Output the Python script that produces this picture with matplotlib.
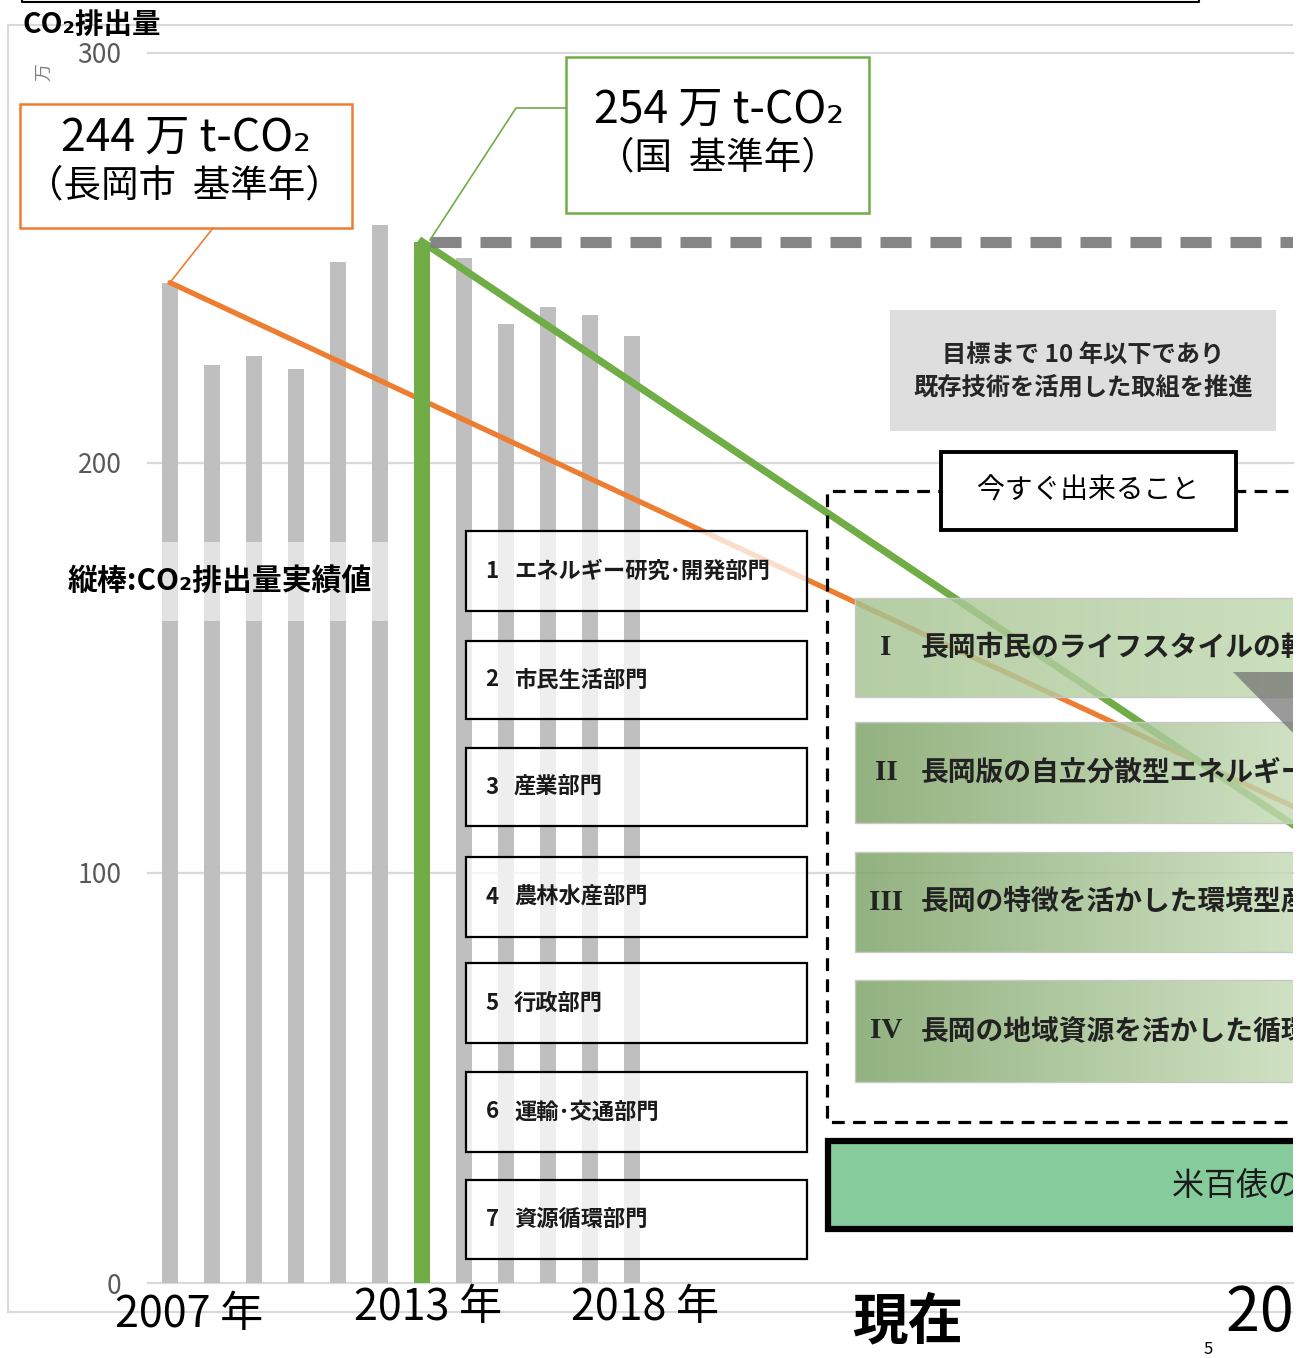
import numpy as np
import matplotlib
matplotlib.use("Agg")
import matplotlib.pyplot as plt
import matplotlib.colors as mcolors
from matplotlib.patches import Rectangle, Polygon

plt.rcParams["font.family"] = ["Noto Sans CJK JP", "DejaVu Sans"]

# --- data (万 t-CO2) ---
years = [2007, 2008, 2009, 2010, 2011, 2012, 2013, 2014, 2015, 2016, 2017, 2018]
emissions = [244, 224, 226, 223, 249, 258, 254, 250, 234, 238, 236, 231]

city_line_x = [2007, 2034]
city_line_y = [244, 115]
nation_line_x = [2013, 2034]
nation_line_y = [254, 110]
nation_base = 254

y_ticks = [0, 100, 200, 300]
x_labels = ["2007 年", "2013 年", "2018 年"]
sector_nums = ["1", "2", "3", "4", "5", "6", "7"]
sector_labels = ["エネルギー研究･開発部門", "市民生活部門", "産業部門",
                 "農林水産部門", "行政部門", "運輸･交通部門", "資源循環部門"]
pillar_nums = ["I", "II", "III", "IV"]
pillar_labels = ["長岡市民のライフスタイルの転換",
                 "長岡版の自立分散型エネルギー社会の構築",
                 "長岡の特徴を活かした環境型産業の振興",
                 "長岡の地域資源を活かした循環型社会の構築"]

W, H = 1308, 1358
fig = plt.figure(figsize=(W / 100, H / 100), dpi=100)

# main chart axes, placed in pixel terms
x_left, x_right, y_top, y_bot = 148, 1293, 53, 1283
ax = fig.add_axes([x_left / W, 1 - y_bot / H, (x_right - x_left) / W, (y_bot - y_top) / H])
px_per_year = 42
ax.set_xlim(2007 - (170 - x_left) / px_per_year, 2007 + (x_right - 170) / px_per_year)
ax.set_ylim(0, 300)
for s in ax.spines.values():
    s.set_visible(False)
ax.set_xticks([])
ax.set_yticks(y_ticks)
ax.set_yticklabels([str(v) for v in y_ticks])
ax.tick_params(axis="y", length=0, pad=19, labelsize=19, labelcolor="#595959")
for v in y_ticks:
    ax.axhline(v, color="#d9d9d9", lw=1.6, zorder=0, clip_on=False)

ax.bar(years, emissions, width=0.38, color="#bfbfbf", zorder=1)

ax.plot(city_line_x, city_line_y, color="#ed7d31", lw=3.8, zorder=3, solid_capstyle="round")
ax.plot(nation_line_x, nation_line_y, color="#70ad47", lw=5.2, zorder=4)
ax.plot([nation_line_x[0], nation_line_x[0]], [0, nation_base], color="#70ad47", lw=11.5,
        zorder=4, solid_capstyle="butt")
ax.plot([nation_line_x[0] + 0.2, nation_line_x[1]], [nation_base, nation_base], color="#7f7f7f",
        lw=8, dashes=(2.8, 1.7), dash_capstyle="butt", zorder=5, alpha=0.95)

# overlay axes in pixel coordinates for the boxes and texts
ov = fig.add_axes([0, 0, 1293 / W, 1])
ov.axis("off")


def rect(x0, y0, x1, y1, **kw):
    r = Rectangle((x0, y0), x1 - x0, y1 - y0, **kw)
    ov.add_patch(r)
    return r


def txt(x, y, s, **kw):
    kw.setdefault("clip_on", True)
    return ov.text(x, y, s, **kw)


def gradient(x0, y0, x1, y1, c_left, c_right, alpha, z):
    t = np.linspace(0, 1, 256)[:, None]
    cl = np.array(mcolors.to_rgb(c_left))
    cr = np.array(mcolors.to_rgb(c_right))
    img = np.ones((1, 256, 4))
    img[0, :, :3] = cl * (1 - t) + cr * t
    img[0, :, 3] = alpha
    ov.imshow(img, extent=(x0, x1, y1, y0), aspect="auto", interpolation="bilinear", zorder=z)
    rect(x0, y0, x1, y1, fill=False, ec="#c8c8c8", lw=1, zorder=z + 0.1)


# outer frame
ov.plot([8, 1293], [25, 25], color="#d9d9d9", lw=1.5)
ov.plot([8, 8], [25, 1312], color="#d9d9d9", lw=1.5)
ov.plot([8, 1293], [1312, 1312], color="#d9d9d9", lw=1.5)
ov.plot([22, 22, 1199, 1199], [-2, 1.5, 1.5, -2], color="black", lw=1.5)

# axis title / unit
txt(22, 25, "CO₂排出量", fontsize=20.5, fontweight="bold", va="center", ha="left")
txt(44, 72, "万", fontsize=13, color="#7f7f7f", rotation=90, va="center", ha="center")

# label band over the bars
rect(60, 542, 392, 621, fc="white", alpha=0.55, lw=0, zorder=2)
txt(68, 581, "縦棒:CO₂排出量実績値", fontsize=21.5, fontweight="bold", va="center", ha="left",
    zorder=3)

# callouts
rect(20, 104, 352, 228, fc="white", ec="#ed7d31", lw=1.8, zorder=4)
txt(186, 138, "244 万 t-CO₂", fontsize=32, ha="center", va="center", zorder=5)
txt(184, 186, "（長岡市  基準年）", fontsize=27, ha="center", va="center", zorder=5)
ov.plot([213, 172], [228, 280], color="#ed7d31", lw=1.2, zorder=4)

rect(566, 57, 869, 213, fc="white", ec="#70ad47", lw=1.8, zorder=4)
txt(719, 110, "254 万 t-CO₂", fontsize=32, ha="center", va="center", zorder=5)
txt(718, 158, "（国  基準年）", fontsize=27, ha="center", va="center", zorder=5)
ov.plot([566, 516, 430], [108, 108, 240], color="#70ad47", lw=1.2, zorder=4)

# sector boxes
sector_y = [(531, 611), (641, 719), (748, 826), (857, 937), (963, 1043), (1072, 1152), (1180, 1259)]
for (y0, y1), num, lab in zip(sector_y, sector_nums, sector_labels):
    rect(466, y0, 807, y1, fc="white", alpha=0.75, lw=0, zorder=3)
    rect(466, y0, 807, y1, fill=False, ec="black", lw=1.6, zorder=3.1)
    txt(492, (y0 + y1) / 2, num, fontsize=16, fontweight="bold", va="center", ha="center",
        color="#1a1a1a", zorder=3.2)
    txt(514, (y0 + y1) / 2, lab, fontsize=16, fontweight="bold", va="center", ha="left",
        color="#1a1a1a", zorder=3.2)

# grey note box
rect(890, 310, 1276, 431, fc="#dedede", lw=0, zorder=3)
txt(1083, 356, "目標まで 10 年以下であり", fontsize=17.5, fontweight="bold", ha="center",
    va="center", color="#262626", zorder=3.2)
txt(1083, 388, "既存技術を活用した取組を推進", fontsize=17.5, fontweight="bold", ha="center",
    va="center", color="#262626", zorder=3.2)

# dashed frame
ov.plot([1400, 827, 827, 1400], [491, 491, 1122, 1122], color="black", lw=2.3,
        dashes=(4, 2.6), zorder=3.5)
rect(941, 452, 1236, 530, fc="white", ec="black", lw=2.8, zorder=3.6)
txt(1088, 491, "今すぐ出来ること", fontsize=20, ha="center", va="center", zorder=3.7)

# pillar rows
row_y = [(598, 697), (722, 823), (852, 952), (980, 1082)]
row_cols = [("#a5c391", "#c2d9b0"), ("#7ba164", "#c6dcb7"), ("#7ba164", "#c6dcb7"),
            ("#7ba164", "#c6dcb7")]
for (y0, y1), (cl, cr), num, lab in zip(row_y, row_cols, pillar_nums, pillar_labels):
    gradient(855, y0, 1300, y1, cl, cr, 0.82, 3.8)
    txt(886, (y0 + y1) / 2, num, fontsize=21, fontweight="bold", family="Liberation Serif",
        ha="center", va="center", color="#222222", zorder=4)
    txt(921, (y0 + y1) / 2, lab, fontsize=20, fontweight="bold", ha="left", va="center",
        color="#222222", zorder=4)

ov.add_patch(Polygon([(1233, 672), (1300, 672), (1300, 740)], closed=True, fc="#6f6f6f",
                     alpha=0.7, lw=0, zorder=3.9))

# bottom green bar
rect(828, 1141, 1320, 1229, fc="#86cb9b", ec="black", lw=4.5, zorder=4)
txt(1172, 1187, "米百俵のまち　長岡", fontsize=23, ha="left", va="center", color="#1a1a1a",
    zorder=4.2)

# x labels
txt(189, 1315, x_labels[0], fontsize=31, ha="center", va="center")
txt(428, 1308, x_labels[1], fontsize=31, ha="center", va="center")
txt(645, 1308, x_labels[2], fontsize=31, ha="center", va="center")
txt(908, 1322, "現在", fontsize=40, fontweight="bold", ha="center", va="center")
txt(1226, 1314, "2030 年", fontsize=44, ha="left", va="center")
txt(1208, 1349, "5", fontsize=12, ha="center", va="center")

ov.set_xlim(0, 1293)
ov.set_ylim(H, 0)

fig.savefig("out.png", dpi=100)
